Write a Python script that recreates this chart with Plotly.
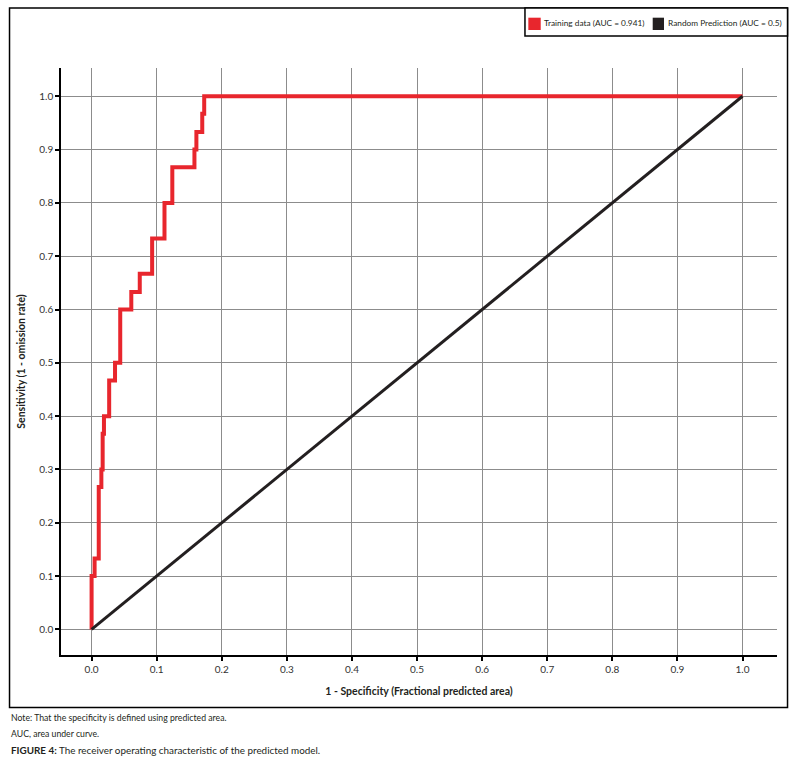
import plotly.graph_objects as go

# ROC curve corner points (1 - specificity, sensitivity)
fpr = [0.0, 0.0, 0.0046, 0.011, 0.015, 0.017, 0.019, 0.027, 0.036, 0.044,
       0.061, 0.074, 0.093, 0.112, 0.124, 0.158, 0.161, 0.170, 0.173, 1.0]
tpr = [0.0, 0.100, 0.133, 0.267, 0.300, 0.367, 0.400, 0.467, 0.500, 0.600,
       0.633, 0.667, 0.733, 0.800, 0.867, 0.900, 0.933, 0.967, 1.0, 1.0]

random_x = [0.0, 1.0]
random_y = [0.0, 1.0]

tick_vals = [0.0, 0.1, 0.2, 0.3, 0.4, 0.5, 0.6, 0.7, 0.8, 0.9, 1.0]

legend_names = ['Training data (AUC = 0.941)', 'Random Prediction (AUC = 0.5)']

red = '#e8262d'
black = '#231f20'
font = 'Lato, Liberation Sans, sans-serif'

fig = go.Figure()
fig.add_trace(go.Scatter(x=fpr, y=tpr, mode='lines', line_shape='hv',
                         line=dict(color=red, width=4), name=legend_names[0],
                         showlegend=False))
fig.add_trace(go.Scatter(x=random_x, y=random_y, mode='lines',
                         line=dict(color=black, width=3), name=legend_names[1],
                         showlegend=False))

axis_style = dict(
    showline=True, linecolor='black', linewidth=1.5,
    ticks='outside', ticklen=4, tickcolor='black', tickwidth=1.5,
    showgrid=True, gridcolor='#8c8c8c', gridwidth=1, zeroline=False,
    tickvals=tick_vals, tickformat='.1f',
    tickfont=dict(family=font, size=10, color='#333333'),
)

fig.update_xaxes(range=[-0.047, 1.053], **axis_style,
                 title=dict(text='<b>1 - Specificity (Fractional predicted area)</b>',
                            font=dict(family=font, size=10.5, color='#231f20'),
                            standoff=14))
fig.update_yaxes(range=[-0.048, 1.053], **axis_style,
                 title=dict(text='<b>Sensitivity (1 - omission rate)</b>',
                            font=dict(family=font, size=10.5, color='#231f20'),
                            standoff=12))

# outer frame around the chart
fig.add_shape(type='rect', xref='paper', yref='paper',
              x0=-0.0719, x1=1.0147, y0=-0.0894, y1=1.1022,
              line=dict(color='black', width=1.5))

# legend box drawn by hand (square swatches, tight spacing)
fig.add_shape(type='rect', xref='paper', yref='paper',
              x0=0.648, x1=1.0147, y0=1.0545, y1=1.1022,
              line=dict(color='black', width=1.5), fillcolor='white')
swatches = [(0.6527, 0.6700, 0.6722, red), (0.8264, 0.8422, 0.8446, black)]
for (sx0, sx1, tx, col), name in zip(swatches, legend_names):
    fig.add_shape(type='rect', xref='paper', yref='paper',
                  x0=sx0, x1=sx1, y0=1.0647, y1=1.0857,
                  line=dict(width=0), fillcolor=col)
    fig.add_annotation(text=name, xref='paper', yref='paper', x=tx, y=1.0761,
                       xanchor='left', yanchor='middle', showarrow=False,
                       font=dict(family=font, size=8.3, color='#231f20'))

notes = [
    ('Note: That the specificity is defined using predicted area.', -0.1073, 8.7),
    ('AUC, area under curve.', -0.1329, 8.7),
    ('<b>FIGURE 4:</b> The receiver operating characteristic of the predicted model.', -0.1618, 9.9),
]
for text, ypos, size in notes:
    fig.add_annotation(text=text, xref='paper', yref='paper', x=-0.0726, y=ypos,
                       xanchor='left', yanchor='middle', showarrow=False,
                       font=dict(family=font, size=size, color='#231f20'))

fig.update_layout(
    width=793, height=761,
    margin=dict(l=61, r=16, t=68, b=106),
    plot_bgcolor='white', paper_bgcolor='white',
    font=dict(family=font),
    showlegend=False,
)

fig.write_html('out.html', config={'displayModeBar': False},
               post_script="document.body.style.margin='0';")
